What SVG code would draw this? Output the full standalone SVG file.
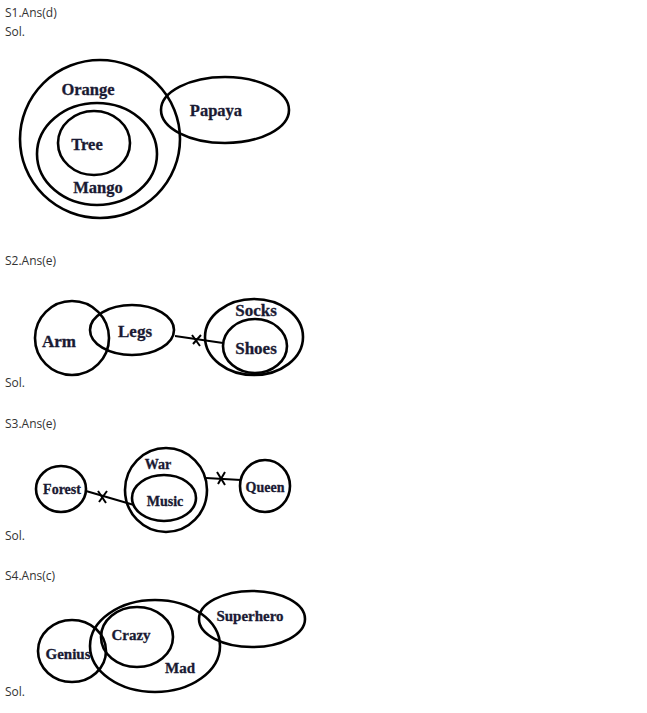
<svg xmlns="http://www.w3.org/2000/svg" width="647" height="713" viewBox="0 0 647 713">
<style>
.hd{font-family:"Open Sans","Liberation Sans",sans-serif;font-size:12px;fill:#333}
.sh{fill:none;stroke:#000;stroke-width:2.6}
.ln{fill:none;stroke:#000;stroke-width:2}
.lb{font-family:"Liberation Serif","DejaVu Serif",serif;font-weight:bold;fill:#1a1a33;stroke:#1a1a33;stroke-width:0.3;text-anchor:middle;dominant-baseline:central}
.l1{font-size:16.5px}
.l2{font-size:17px}
.l3{font-size:14px}
.l4{font-size:15px}
</style>
<rect width="647" height="713" fill="#fff"/>
<g id="headers">
<text class="hd" x="5" y="17">S1.Ans(d)</text>
<text class="hd" x="5" y="36">Sol.</text>
<text class="hd" x="5" y="265">S2.Ans(e)</text>
<text class="hd" x="5" y="387">Sol.</text>
<text class="hd" x="5" y="428">S3.Ans(e)</text>
<text class="hd" x="5" y="540">Sol.</text>
<text class="hd" x="5" y="580">S4.Ans(c)</text>
<text class="hd" x="5" y="696">Sol.</text>
</g>
<g id="connectors">
<path class="ln" d="M175,336 L223,343"/>
<path class="ln" d="M192,335 L200,346 M193,344 L201,335"/>
<path class="ln" d="M86,491 L134,505"/>
<path class="ln" d="M98,491 L106,503 M99,502 L107,491"/>
<path class="ln" d="M206,478 L241,480"/>
<path class="ln" d="M217,472 L225,485 M218,484 L225,472"/>
</g>
<g id="orange"><ellipse class="sh" cx="100" cy="139" rx="80" ry="79"/><text class="lb l1" x="88" y="89">Orange</text></g>
<g id="mango"><ellipse class="sh" cx="97" cy="154" rx="60" ry="51"/><text class="lb l1" x="98" y="187">Mango</text></g>
<g id="tree"><ellipse class="sh" cx="94" cy="143" rx="36" ry="32"/><text class="lb l1" x="87" y="144">Tree</text></g>
<g id="papaya"><ellipse class="sh" cx="225" cy="110" rx="64" ry="33"/><text class="lb l1" x="216" y="110">Papaya</text></g>

<g id="arm"><ellipse class="sh" cx="72" cy="338" rx="37" ry="37"/><text class="lb l2" x="59" y="341">Arm</text></g>
<g id="legs"><ellipse class="sh" cx="132" cy="330" rx="42" ry="25"/><text class="lb l2" x="135" y="331">Legs</text></g>
<g id="socks"><ellipse class="sh" cx="254" cy="337" rx="49" ry="38"/><text class="lb l2" x="256" y="310">Socks</text></g>
<g id="shoes"><ellipse class="sh" cx="255" cy="346" rx="32" ry="27"/><text class="lb l2" x="256" y="348">Shoes</text></g>

<g id="forest"><ellipse class="sh" cx="61" cy="489" rx="25" ry="23"/><text class="lb l3" x="62" y="489">Forest</text></g>
<g id="war"><ellipse class="sh" cx="166" cy="490" rx="41" ry="42"/><text class="lb l3" x="158" y="464">War</text></g>
<g id="music"><ellipse class="sh" cx="164" cy="498" rx="32" ry="23"/><text class="lb l3" x="165" y="501">Music</text></g>
<g id="queen"><ellipse class="sh" cx="265" cy="486" rx="25" ry="26"/><text class="lb l3" x="265" y="487">Queen</text></g>

<g id="genius"><ellipse class="sh" cx="72" cy="651" rx="34" ry="31"/><text class="lb l4" x="68" y="654">Genius</text></g>
<g id="mad"><ellipse class="sh" cx="155" cy="646" rx="65" ry="46"/><text class="lb l4" x="180" y="668">Mad</text></g>
<g id="crazy"><ellipse class="sh" cx="137" cy="637" rx="36" ry="30"/><text class="lb l4" x="131" y="635">Crazy</text></g>
<g id="superhero"><ellipse class="sh" cx="252" cy="619" rx="53" ry="28"/><text class="lb l4" x="250" y="616">Superhero</text></g>
</svg>
